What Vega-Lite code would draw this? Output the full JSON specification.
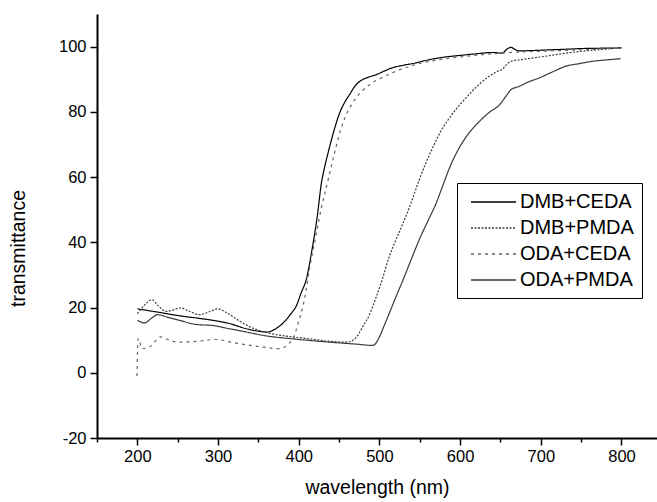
{
  "$schema": "https://vega.github.io/schema/vega-lite/v6.json",
  "autosize": {"type": "none"},
  "width": 560,
  "height": 424,
  "padding": {"left": 97, "top": 14, "right": 0, "bottom": 64},
  "background": "white",
  "config": {
    "view": {"stroke": null},
    "font": "Liberation Sans",
    "axis": {
      "domainColor": "black", "domainWidth": 2, "tickColor": "black", "tickWidth": 1.5,
      "labelFont": "Liberation Sans", "labelFontSize": 16.5, "labelColor": "black",
      "titleFont": "Liberation Sans", "titleFontSize": 19.5, "titleFontWeight": "normal", "titleColor": "black",
      "grid": false
    }
  },
  "datasets": {
    "spectra": [
      {"s":"DMB+CEDA","w":200,"t":19.6},{"s":"DMB+CEDA","w":215,"t":19.0},{"s":"DMB+CEDA","w":230,"t":18.4},{"s":"DMB+CEDA","w":244,"t":17.8},{"s":"DMB+CEDA","w":260,"t":17.2},{"s":"DMB+CEDA","w":273,"t":16.8},{"s":"DMB+CEDA","w":293,"t":16.1},{"s":"DMB+CEDA","w":314,"t":15.1},{"s":"DMB+CEDA","w":335,"t":13.5},{"s":"DMB+CEDA","w":355,"t":12.6},{"s":"DMB+CEDA","w":362,"t":12.5},{"s":"DMB+CEDA","w":370,"t":13.3},{"s":"DMB+CEDA","w":380,"t":15.1},{"s":"DMB+CEDA","w":390,"t":18.0},{"s":"DMB+CEDA","w":397,"t":20.5},{"s":"DMB+CEDA","w":403,"t":24.5},{"s":"DMB+CEDA","w":409,"t":28.3},{"s":"DMB+CEDA","w":417,"t":38.5},{"s":"DMB+CEDA","w":423,"t":48},{"s":"DMB+CEDA","w":428,"t":58},{"s":"DMB+CEDA","w":433,"t":64},{"s":"DMB+CEDA","w":438,"t":69},{"s":"DMB+CEDA","w":444,"t":74.5},{"s":"DMB+CEDA","w":450,"t":79.2},{"s":"DMB+CEDA","w":456,"t":82.5},{"s":"DMB+CEDA","w":463,"t":85.3},{"s":"DMB+CEDA","w":470,"t":88},{"s":"DMB+CEDA","w":476,"t":89.4},{"s":"DMB+CEDA","w":486,"t":90.6},{"s":"DMB+CEDA","w":496,"t":91.4},{"s":"DMB+CEDA","w":506,"t":92.5},{"s":"DMB+CEDA","w":516,"t":93.5},{"s":"DMB+CEDA","w":530,"t":94.3},{"s":"DMB+CEDA","w":545,"t":95},{"s":"DMB+CEDA","w":560,"t":95.9},{"s":"DMB+CEDA","w":578,"t":96.7},{"s":"DMB+CEDA","w":600,"t":97.3},{"s":"DMB+CEDA","w":620,"t":97.8},{"s":"DMB+CEDA","w":640,"t":98.2},{"s":"DMB+CEDA","w":652,"t":98.0},{"s":"DMB+CEDA","w":658,"t":99.2},{"s":"DMB+CEDA","w":663,"t":99.8},{"s":"DMB+CEDA","w":667,"t":99.3},{"s":"DMB+CEDA","w":672,"t":98.7},{"s":"DMB+CEDA","w":690,"t":98.8},{"s":"DMB+CEDA","w":710,"t":99.0},{"s":"DMB+CEDA","w":731,"t":99.2},{"s":"DMB+CEDA","w":750,"t":99.4},{"s":"DMB+CEDA","w":772,"t":99.5},{"s":"DMB+CEDA","w":800,"t":99.6},

      {"s":"DMB+PMDA","w":200,"t":18.1},{"s":"DMB+PMDA","w":208,"t":20.5},{"s":"DMB+PMDA","w":218,"t":22.4},{"s":"DMB+PMDA","w":226,"t":20.5},{"s":"DMB+PMDA","w":236,"t":18.8},{"s":"DMB+PMDA","w":245,"t":19.3},{"s":"DMB+PMDA","w":253,"t":19.9},{"s":"DMB+PMDA","w":265,"t":18.8},{"s":"DMB+PMDA","w":277,"t":17.8},{"s":"DMB+PMDA","w":290,"t":18.8},{"s":"DMB+PMDA","w":300,"t":19.6},{"s":"DMB+PMDA","w":310,"t":18.5},{"s":"DMB+PMDA","w":327,"t":15.8},{"s":"DMB+PMDA","w":348,"t":13.2},{"s":"DMB+PMDA","w":370,"t":11.8},{"s":"DMB+PMDA","w":400,"t":10.8},{"s":"DMB+PMDA","w":420,"t":10.2},{"s":"DMB+PMDA","w":440,"t":9.6},{"s":"DMB+PMDA","w":460,"t":9.4},{"s":"DMB+PMDA","w":470,"t":10.5},{"s":"DMB+PMDA","w":479,"t":14},{"s":"DMB+PMDA","w":488,"t":18},{"s":"DMB+PMDA","w":496,"t":23.2},{"s":"DMB+PMDA","w":504,"t":29},{"s":"DMB+PMDA","w":512,"t":35.5},{"s":"DMB+PMDA","w":520,"t":40.5},{"s":"DMB+PMDA","w":529,"t":45.7},{"s":"DMB+PMDA","w":539,"t":52},{"s":"DMB+PMDA","w":549,"t":58.9},{"s":"DMB+PMDA","w":557,"t":64},{"s":"DMB+PMDA","w":566,"t":69},{"s":"DMB+PMDA","w":576,"t":74},{"s":"DMB+PMDA","w":587,"t":78.2},{"s":"DMB+PMDA","w":600,"t":82.3},{"s":"DMB+PMDA","w":611,"t":85.3},{"s":"DMB+PMDA","w":623,"t":88.3},{"s":"DMB+PMDA","w":636,"t":90.9},{"s":"DMB+PMDA","w":645,"t":92.3},{"s":"DMB+PMDA","w":652,"t":93.0},{"s":"DMB+PMDA","w":658,"t":94.6},{"s":"DMB+PMDA","w":663,"t":95.5},{"s":"DMB+PMDA","w":675,"t":96},{"s":"DMB+PMDA","w":690,"t":96.5},{"s":"DMB+PMDA","w":710,"t":97.2},{"s":"DMB+PMDA","w":731,"t":98},{"s":"DMB+PMDA","w":760,"t":98.8},{"s":"DMB+PMDA","w":800,"t":99.6},

      {"s":"ODA+CEDA","w":199.5,"t":-1.0},{"s":"ODA+CEDA","w":201,"t":10.5},{"s":"ODA+CEDA","w":206,"t":7.4},{"s":"ODA+CEDA","w":215,"t":7.9},{"s":"ODA+CEDA","w":229,"t":11},{"s":"ODA+CEDA","w":240,"t":10},{"s":"ODA+CEDA","w":250,"t":9.4},{"s":"ODA+CEDA","w":272,"t":9.6},{"s":"ODA+CEDA","w":297,"t":10.2},{"s":"ODA+CEDA","w":322,"t":9.1},{"s":"ODA+CEDA","w":355,"t":7.9},{"s":"ODA+CEDA","w":376,"t":7.4},{"s":"ODA+CEDA","w":388,"t":9},{"s":"ODA+CEDA","w":394,"t":11},{"s":"ODA+CEDA","w":399,"t":15},{"s":"ODA+CEDA","w":405,"t":20.2},{"s":"ODA+CEDA","w":409,"t":25},{"s":"ODA+CEDA","w":413,"t":31.4},{"s":"ODA+CEDA","w":417,"t":36.5},{"s":"ODA+CEDA","w":421,"t":41.6},{"s":"ODA+CEDA","w":428,"t":50.5},{"s":"ODA+CEDA","w":436,"t":58.7},{"s":"ODA+CEDA","w":441,"t":64},{"s":"ODA+CEDA","w":446,"t":69},{"s":"ODA+CEDA","w":452,"t":74.5},{"s":"ODA+CEDA","w":459,"t":79.2},{"s":"ODA+CEDA","w":465,"t":82},{"s":"ODA+CEDA","w":471,"t":84.3},{"s":"ODA+CEDA","w":479,"t":86.5},{"s":"ODA+CEDA","w":488,"t":88.4},{"s":"ODA+CEDA","w":503,"t":90.5},{"s":"ODA+CEDA","w":520,"t":92.4},{"s":"ODA+CEDA","w":545,"t":94.5},{"s":"ODA+CEDA","w":574,"t":96},{"s":"ODA+CEDA","w":607,"t":97},{"s":"ODA+CEDA","w":650,"t":98},{"s":"ODA+CEDA","w":700,"t":98.6},{"s":"ODA+CEDA","w":750,"t":99},{"s":"ODA+CEDA","w":800,"t":99.7},

      {"s":"ODA+PMDA","w":200,"t":16.1},{"s":"ODA+PMDA","w":209,"t":15.3},{"s":"ODA+PMDA","w":218,"t":16.8},{"s":"ODA+PMDA","w":225,"t":17.8},{"s":"ODA+PMDA","w":238,"t":17},{"s":"ODA+PMDA","w":252,"t":16.1},{"s":"ODA+PMDA","w":273,"t":14.8},{"s":"ODA+PMDA","w":293,"t":14.5},{"s":"ODA+PMDA","w":314,"t":13.5},{"s":"ODA+PMDA","w":335,"t":12.5},{"s":"ODA+PMDA","w":355,"t":11.5},{"s":"ODA+PMDA","w":397,"t":10.3},{"s":"ODA+PMDA","w":438,"t":9.4},{"s":"ODA+PMDA","w":470,"t":8.8},{"s":"ODA+PMDA","w":492,"t":8.4},{"s":"ODA+PMDA","w":500,"t":11},{"s":"ODA+PMDA","w":506,"t":14.5},{"s":"ODA+PMDA","w":512,"t":18.1},{"s":"ODA+PMDA","w":520,"t":23},{"s":"ODA+PMDA","w":529,"t":28.3},{"s":"ODA+PMDA","w":539,"t":34.5},{"s":"ODA+PMDA","w":549,"t":40.6},{"s":"ODA+PMDA","w":560,"t":46.5},{"s":"ODA+PMDA","w":570,"t":51.8},{"s":"ODA+PMDA","w":578,"t":57},{"s":"ODA+PMDA","w":588,"t":63.5},{"s":"ODA+PMDA","w":599,"t":69},{"s":"ODA+PMDA","w":611,"t":73.5},{"s":"ODA+PMDA","w":624,"t":77.1},{"s":"ODA+PMDA","w":636,"t":79.8},{"s":"ODA+PMDA","w":649,"t":82.2},{"s":"ODA+PMDA","w":656,"t":84.5},{"s":"ODA+PMDA","w":663,"t":86.8},{"s":"ODA+PMDA","w":673,"t":87.8},{"s":"ODA+PMDA","w":685,"t":89.2},{"s":"ODA+PMDA","w":698,"t":90.4},{"s":"ODA+PMDA","w":715,"t":92.3},{"s":"ODA+PMDA","w":731,"t":94},{"s":"ODA+PMDA","w":748,"t":94.8},{"s":"ODA+PMDA","w":764,"t":95.5},{"s":"ODA+PMDA","w":780,"t":95.9},{"s":"ODA+PMDA","w":799,"t":96.3}
    ]
  },
  "layer": [
    {
      "data": {"name": "spectra"},
      "mark": {"type": "line", "strokeWidth": 1.2, "interpolate": "monotone"},
      "encoding": {
        "x": {"field": "w", "type": "quantitative",
          "scale": {"domain": [150, 844], "nice": false, "zero": false},
          "axis": {"title": "wavelength (nm)", "values": [150,200,250,300,350,400,450,500,550,600,650,700,750,800],
            "labelExpr": "datum.value % 100 === 0 && datum.value >= 200 ? '' + datum.value : ''",
            "tickSize": {"condition": {"test": "datum.value % 100 === 0", "value": 7}, "value": 4},
            "labelPadding": 3, "titlePadding": 14, "labelFlush": false}},
        "y": {"field": "t", "type": "quantitative",
          "scale": {"domain": [-20, 110], "nice": false, "zero": false},
          "axis": {"title": "transmittance", "values": [-20,-10,0,10,20,30,40,50,60,70,80,90,100,110],
            "labelExpr": "datum.value % 20 === 0 ? '' + datum.value : ''",
            "tickSize": {"condition": {"test": "datum.value % 20 === 0", "value": 7}, "value": 4},
            "labelPadding": 4, "titleX": -69, "titleY": 234, "labelFlush": false}},
        "color": {"field": "s", "type": "nominal",
          "scale": {"domain": ["DMB+CEDA","DMB+PMDA","ODA+CEDA","ODA+PMDA"], "range": ["#000000","#3a3a3a","#666666","#3a3a3a"]},
          "legend": {"title": null, "orient": "none", "legendX": 360, "legendY": 169,
            "symbolType": "M-0.5,0L4,0", "symbolSize": 400, "symbolStrokeWidth": 1.3, "symbolFillColor": "transparent",
            "labelFont": "Liberation Sans", "labelFontSize": 20, "labelColor": "black", "labelOffset": 33,
            "rowPadding": 5, "padding": 8, "strokeColor": "black", "fillColor": "white", "labelLimit": 200}},
        "strokeDash": {"field": "s", "type": "nominal",
          "scale": {"domain": ["DMB+CEDA","DMB+PMDA","ODA+CEDA","ODA+PMDA"], "range": [[1,0],[2,1.5],[3,4],[1,0]]},
          "legend": null}
      }
    },
    {
      "mark": {"type": "rule", "color": "black", "strokeWidth": 2},
      "encoding": {"y": {"datum": 110}}
    }
  ]
}
